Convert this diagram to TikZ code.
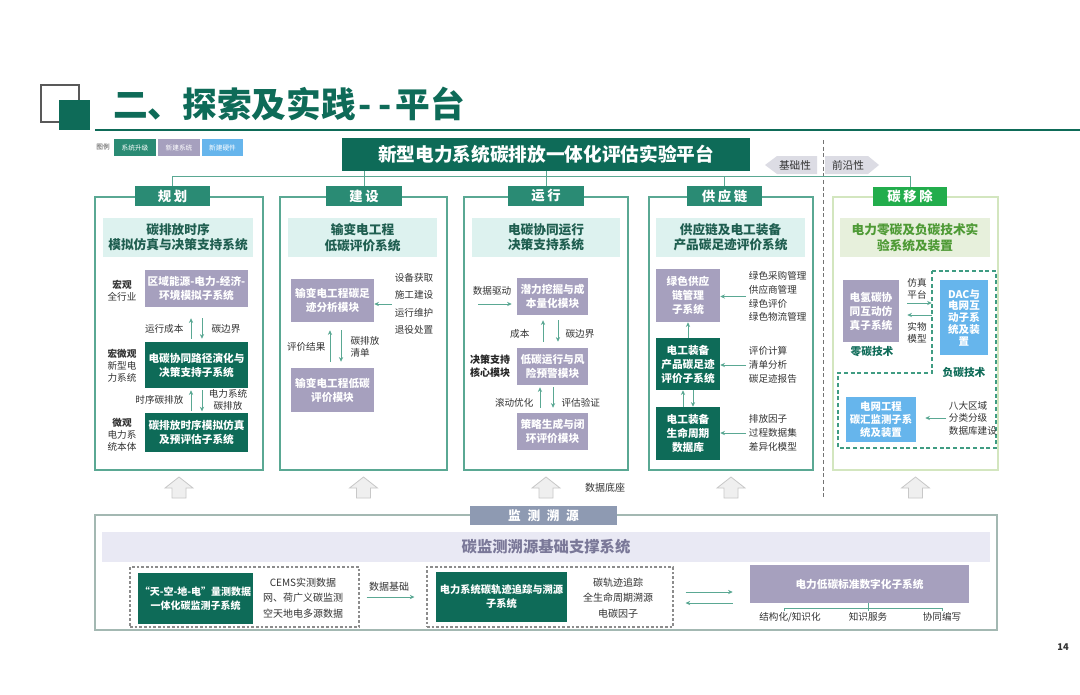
\documentclass[tikz,border=0pt]{standalone}
\usepackage{fontspec}
\setmainfont{Noto Sans CJK SC}
\usetikzlibrary{arrows.meta}
\definecolor{tealD}{HTML}{0E6B58}
\definecolor{tealH}{HTML}{2A8B74}
\definecolor{tealL}{HTML}{5AA893}
\definecolor{cyanL}{HTML}{DDF2EF}
\definecolor{subT}{HTML}{1F5E50}
\definecolor{purp}{HTML}{A6A0BE}
\definecolor{blueL}{HTML}{66B5EC}
\definecolor{greenH}{HTML}{22AD4C}
\definecolor{greenB}{HTML}{D3E6BF}
\definecolor{greenF}{HTML}{E7F0DC}
\definecolor{greenT}{HTML}{4E9A35}
\definecolor{dashG}{HTML}{3F9C82}
\definecolor{bandF}{HTML}{E9E9F4}
\definecolor{bandT}{HTML}{7A7898}
\definecolor{hdrB}{HTML}{8E9AB2}
\definecolor{tagF}{HTML}{DCDCE4}
\definecolor{txt}{HTML}{333333}
\definecolor{arrF}{HTML}{EFEFEF}
\definecolor{arrD}{HTML}{C8C8C8}
\definecolor{boxB}{HTML}{A3B8B2}
\newcommand\fs[2]{\fontsize{#1}{#2}\selectfont}
\newcommand\bx[7]{\node[#1,minimum width={(#5-#3)*0.75pt},minimum height={(#6-#4)*0.75pt}] (#2) at ({(#3+#5)/2},{(#4+#6)/2}) {#7};}
\newcommand\uparr[1]{\draw[fill=arrF,draw=arrD,line width=0.6pt] ({#1-7},498) -- ({#1+7},498) -- ({#1+7},488) -- ({#1+14},488) -- (#1,477) -- ({#1-14},488) -- ({#1-7},488) -- cycle;}
\tikzset{
 box/.style={inner sep=0pt, align=center, text=white, font=\bfseries\fs{8}{10.5}},
 tbox/.style={box, fill=tealD},
 pbox/.style={box, fill=purp},
 lbox/.style={box, fill=blueL},
 hdr/.style={box, fill=tealH, font=\bfseries\fs{10}{12}},
 colbox/.style={draw=tealL, line width=0.8pt, inner sep=0pt},
 subbox/.style={fill=cyanL, text=subT, font=\bfseries\fs{9.5}{11.5}, align=center, inner sep=0pt},
 lbl/.style={text=txt, font=\fs{7.2}{9}, inner sep=1pt, align=center},
 blbl/.style={text=black!85, font=\bfseries\fs{7.5}{9.5}, inner sep=1pt, align=center},
 arr/.style={draw=tealL, line width=0.7pt, -{Stealth[length=3.5pt,width=3.2pt]}},
 tline/.style={draw=tealL, line width=0.6pt},
}
\begin{document}
\begin{tikzpicture}[x=0.75pt,y=-0.75pt]
\useasboundingbox[fill=white] (0,0) rectangle (1080,694);

% heading
\draw[draw=black!65, line width=1.1pt] (41,85) rectangle (79,122);
\fill[tealD] (59,100) rectangle (90,130);
\node[anchor=west, text=tealD, font=\bfseries\fs{26}{30}, inner sep=0pt] (head) at (113,104) {二、探索及实践\hspace{2pt}-\hspace{5pt}-\hspace{3pt}平台};
\draw[tealD, line width=1.5pt] (95,130) -- (1080,130);

% legend
\node[text=black!70, font=\fs{5}{6}, inner sep=0pt] (lgd) at (103,147) {图例};
\bx{box,fill=tealH,font=\fs{5}{6}}{lg1}{114}{139}{156}{156}{系统升级}
\bx{box,fill=purp,font=\fs{5}{6}}{lg2}{158}{139}{200}{156}{新建系统}
\bx{box,fill=blueL,font=\fs{5}{6}}{lg3}{202}{139}{243}{156}{新建硬件}

% title and tags
\bx{tbox,font=\bfseries\fs{14}{16}}{title}{342}{138}{750}{171}{新型电力系统碳排放一体化评估实验平台}
\fill[tagF] (765,165) -- (777,156) -- (817,156) -- (817,174) -- (777,174) -- cycle;
\node[lbl,font=\fs{8}{9}] (jcx) at (795,165) {基础性};
\fill[tagF] (825,156) -- (868,156) -- (879,165) -- (868,174) -- (825,174) -- cycle;
\node[lbl,font=\fs{8}{9}] (qyx) at (848,165) {前沿性};
\draw[black!55, line width=0.7pt, dash pattern=on 3pt off 2pt] (823,140) -- (823,498);

% columns
\bx{colbox}{cG}{95}{197}{263}{470}{}
\bx{colbox}{cJ}{280}{197}{447}{470}{}
\bx{colbox}{cY}{464}{197}{628}{470}{}
\bx{colbox}{cS}{649}{197}{813}{470}{}
\bx{colbox,draw=greenB}{cT}{833}{197}{998}{470}{}

% headers
\bx{hdr}{hG}{135}{186}{210}{206}{规\hspace{2pt}划}
\bx{hdr}{hJ}{326}{186}{402}{206}{建\hspace{2pt}设}
\bx{hdr}{hY}{508}{186}{584}{206}{运\hspace{2pt}行}
\bx{hdr}{hS}{687}{186}{762}{206}{供\hspace{2pt}应\hspace{2pt}链}
\bx{hdr,fill=greenH}{hT}{873}{187}{947}{206}{碳\hspace{2pt}移\hspace{2pt}除}

% tree
\draw[tline] (hG.north) -- ++(0,-9) -| (hT.north);
\draw[tline] (hJ.north) -- (hJ.north |- title.south);
\draw[tline] (hY.north) -- (title.south);
\draw[tline] (hS.north) -- ++(0,-9);

% subtitles
\bx{subbox}{sG}{103}{218}{253}{257}{碳排放时序\\模拟仿真与决策支持系统}
\bx{subbox}{sJ}{288}{218}{437}{257}{输变电工程\\低碳评价系统}
\bx{subbox}{sY}{472}{218}{620}{257}{电碳协同运行\\决策支持系统}
\bx{subbox}{sS}{656}{218}{805}{257}{供应链及电工装备\\产品碳足迹评价系统}
\bx{subbox,fill=greenF,text=greenT}{sT}{840}{218}{990}{257}{电力零碳及负碳技术实\\验系统及装置}

% planning column
\bx{pbox}{g1}{145}{270}{248}{307}{区域能源-电力-经济-\\环境模拟子系统}
\bx{tbox}{g2}{145}{342}{248}{388}{电碳协同路径演化与\\决策支持子系统}
\bx{tbox}{g3}{145}{413}{248}{452}{碳排放时序模拟仿真\\及预评估子系统}
\node[lbl] (gl1) at (122,291) {\textbf{宏观}\\全行业};
\node[lbl] (gl2) at (122,366) {\textbf{宏微观}\\新型电\\力系统};
\node[lbl] (gl3) at (122,435) {\textbf{微观}\\电力系\\统本体};
\draw[arr, shorten <=2.25pt, shorten >=8.25pt] ([xshift=-4.1pt]g2.north) -- ([xshift=-4.1pt]g1.south);
\draw[arr, shorten <=8.25pt, shorten >=2.25pt] ([xshift=4.1pt]g1.south) -- ([xshift=4.1pt]g2.north);
\node[lbl, anchor=east] (ga1) at (185,329) {运行成本};
\node[lbl, anchor=west] (ga2) at (210,329) {碳边界};
\draw[arr, shorten <=1pt, shorten >=1.5pt] ([xshift=-4.1pt]g3.north) -- ([xshift=-4.1pt]g2.south);
\draw[arr, shorten <=1.5pt, shorten >=1pt] ([xshift=4.1pt]g2.south) -- ([xshift=4.1pt]g3.north);
\node[lbl, anchor=east] (ga3) at (185,400) {时序碳排放};
\node[lbl] (ga4) at (228,400) {电力系统\\碳排放};

% construction column
\bx{pbox}{bA}{291}{279}{374}{322}{输变电工程碳足\\迹分析模块}
\bx{pbox}{bB}{291}{368}{374}{412}{输变电工程低碳\\评价模块}
\node[lbl, font=\fs{7.2}{13}, inner sep=2pt] (bl) at (414,304) {设备获取\\施工建设\\运行维护\\退役处置};
\draw[arr] (bl.west) -- (bl.west -| bA.east);
\draw[arr, shorten <=4.5pt, shorten >=6pt] ([xshift=-1.9pt]bB.north) -- ([xshift=-1.9pt]bA.south);
\draw[arr, shorten <=6pt, shorten >=4.5pt] ([xshift=6.4pt]bA.south) -- ([xshift=6.4pt]bB.north);
\node[lbl, anchor=east] (ba1) at (327,347) {评价结果};
\node[lbl, anchor=west, align=left] (ba2) at (349,347) {碳排放\\清单};

% operation column
\node[lbl] (rd) at (492,291) {数据驱动};
\coordinate (rin) at (478,304);
\bx{pbox}{r1}{517}{278}{588}{315}{潜力挖掘与成\\本量化模块}
\bx{pbox}{r2}{517}{348}{588}{385}{低碳运行与风\\险预警模块}
\bx{pbox}{r3}{517}{413}{588}{450}{策略生成与闭\\环评价模块}
\draw[arr, shorten >=3.75pt] (rin) -- (rin -| r1.west);
\draw[arr, shorten <=4.5pt, shorten >=3.75pt] ([xshift=-7.1pt]r2.north) -- ([xshift=-7.1pt]r1.south);
\draw[arr, shorten <=3.75pt, shorten >=4.5pt] ([xshift=4.1pt]r1.south) -- ([xshift=4.1pt]r2.north);
\draw[arr, shorten <=3.75pt, shorten >=1.5pt] ([xshift=-9.4pt]r3.north) -- ([xshift=-9.4pt]r2.south);
\draw[arr, shorten <=1.5pt, shorten >=3.75pt] ([xshift=0.4pt]r2.south) -- ([xshift=0.4pt]r3.north);
\node[lbl, anchor=east] (ra1) at (531,334) {成本};
\node[lbl, anchor=west] (ra2) at (564,334) {碳边界};
\node[lbl, anchor=east] (ra3) at (535,403) {滚动优化};
\node[lbl, anchor=west] (ra4) at (560,403) {评估验证};
\node[blbl] (rk) at (490,366) {决策支持\\核心模块};

% supply chain column
\bx{pbox}{s1}{656}{269}{720}{322}{绿色供应\\链管理\\子系统}
\bx{tbox}{s2}{656}{338}{720}{390}{电工装备\\产品碳足迹\\评价子系统}
\bx{tbox}{s3}{656}{407}{720}{460}{电工装备\\生命周期\\数据库}
\node[lbl, anchor=west, align=left, font=\fs{7.2}{10.3}, inner sep=2pt] (sl1) at (746,296.5) {绿色采购管理\\供应商管理\\绿色评价\\绿色物流管理};
\node[lbl, anchor=west, align=left, font=\fs{7.2}{10.3}, inner sep=2pt] (sl2) at (746,365) {评价计算\\清单分析\\碳足迹报告};
\node[lbl, anchor=west, align=left, font=\fs{7.2}{10.3}, inner sep=2pt] (sl3) at (746,433) {排放因子\\过程数据集\\差异化模型};
\draw[arr] (sl1.west) -- (sl1.west -| s1.east);
\draw[arr] (sl2.west) -- (sl2.west -| s2.east);
\draw[arr] (sl3.west) -- (sl3.west -| s3.east);
\draw[arr] (s2.north) -- (s1.south);
\draw[arr] ([xshift=-3.75pt]s3.north) -- ([xshift=-3.75pt]s2.south);
\draw[arr] ([xshift=3.75pt]s2.south) -- ([xshift=3.75pt]s3.north);

% carbon removal column
\draw[dashG, line width=0.8pt, dash pattern=on 3pt off 2pt] (932,271) -- (996,271) -- (996,448) -- (838,448) -- (838,373) -- (932,373) -- cycle;
\bx{pbox}{t1}{843}{280}{899}{342}{电氢碳协\\同互动仿\\真子系统}
\node[text=tealD, font=\bfseries\fs{8}{9}, inner sep=0pt] (zt) at (872,352) {零碳技术};
\bx{lbox,font=\bfseries\fs{7.9}{8.8}}{t2}{940}{280}{988}{355}{DAC与\\电网互\\动子系\\统及装\\置}
\node[lbl] (tp1) at (917,289) {仿真\\平台};
\node[lbl] (tp2) at (917,333) {实物\\模型};
\draw[arr, shorten <=6pt, shorten >=6pt] (t1.east |- 0,303) -- (t2.west |- 0,303);
\draw[arr, shorten <=6pt, shorten >=6pt] (t2.west |- 0,315) -- (t1.east |- 0,315);
\node[fill=white, text=tealD, font=\bfseries\fs{8}{9}, inner sep=1pt] (ft) at (964,372) {负碳技术};
\bx{lbox,font=\bfseries\fs{7.8}{10}}{t3}{846}{397}{916}{442}{电网工程\\碳汇监测子系\\统及装置}
\node[lbl, anchor=west, align=left, font=\fs{7.2}{9.3}, inner sep=2pt] (tl3) at (946,418) {八大区域\\分类分级\\数据库建设};
\draw[arr, shorten >=6.75pt] (tl3.west) -- (tl3.west -| t3.east);

% block arrows
\uparr{179}
\uparr{363.5}
\uparr{546}
\uparr{731}
\uparr{915.5}
\node[lbl, font=\fs{7.5}{9}] (db) at (605,488) {数据底座};

% bottom section
\bx{colbox,draw=boxB}{bot}{95}{515}{997}{630}{}
\bx{box,fill=hdrB,font=\bfseries\fs{9.5}{11}}{hM}{470}{506}{617}{525}{监\hspace{5pt}测\hspace{5pt}溯\hspace{5pt}源}
\bx{box,fill=bandF,text=bandT,font=\bfseries\fs{11.5}{13}}{band}{102}{532}{990}{562}{碳监测溯源基础支撑系统}
\bx{colbox,draw=black!45,dash pattern=on 2pt off 1.5pt}{d1}{130}{567}{359}{627}{}
\bx{tbox,font=\bfseries\fs{7.5}{10.5}}{m1}{138}{573}{253}{624}{“天-空-地-电”量测数据\\一体化碳监测子系统}
\node[lbl, font=\fs{7.5}{11.6}] (ml1) at (303,598) {CEMS实测数据\\网、荷广义碳监测\\空天地电多源数据};
\node[lbl, font=\fs{7.5}{9}] (sj) at (389,587) {数据基础};
\bx{colbox,draw=black!45,dash pattern=on 2pt off 1.5pt}{d2}{427}{567}{673}{627}{}
\draw[arr, shorten <=5.25pt, shorten >=9pt] (d1.east) -- (d2.west);
\bx{tbox,font=\bfseries\fs{7.7}{10.5}}{m2}{436}{572}{567}{622}{电力系统碳轨迹追踪与溯源\\子系统}
\node[lbl, font=\fs{7.5}{11.6}] (ml2) at (618,598) {碳轨迹追踪\\全生命周期溯源\\电碳因子};
\bx{pbox,font=\bfseries\fs{8}{10}}{m3}{750}{565}{969}{603}{电力低碳标准数字化子系统}
\draw[arr, shorten <=9pt, shorten >=12.75pt] (d2.east |- 0,592) -- (m3.west |- 0,592);
\draw[arr, shorten <=12.75pt, shorten >=9pt] (m3.west |- 0,603) -- (d2.east |- 0,603);
\node[lbl] (k1) at (790,617) {结构化/知识化};
\node[lbl] (k2) at (868,617) {知识服务};
\node[lbl] (k3) at (942,617) {协同编写};
\coordinate (j1) at (784,608);
\coordinate (j3) at (942,608);
\draw[tline] (m3.south -| k2.north) -- (k2.north);
\draw[tline] (k1.north -| j1) -- (j1) -- (j3) -- (k3.north);

% page number
\node[text=black!80, font=\bfseries\fs{7}{8}, inner sep=0pt] (pg) at (1063,647) {14};
\end{tikzpicture}
\end{document}
